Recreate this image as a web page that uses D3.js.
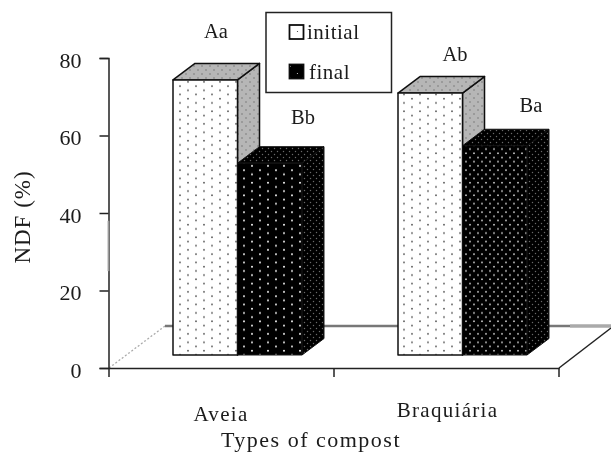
<!DOCTYPE html>
<html><head><meta charset="utf-8"><style>html,body{margin:0;background:#fff}svg{display:block}text{font-family:"Liberation Serif",serif;fill:#1a1a1a}</style>
<script src="https://cdn.jsdelivr.net/npm/d3@7/dist/d3.min.js"></script></head><body><script>
const categories=["Aveia","Braquiária"];
const seriesNames=["initial","final"];
const initialValues=[71,67.6];
const finalValues=[49.5,54];
const letterInitial=["Aa","Ab"];
const letterFinal=["Bb","Ba"];
const yTicks=[0,20,40,60,80];
const W=611,H=453;
const svg=d3.select("body").append("svg").attr("width",W).attr("height",H);
const defs=svg.append("defs");
const f=defs.append("filter").attr("id","soft");f.append("feGaussianBlur").attr("stdDeviation",0.45);
function dots(id,bg,dot,sx,sy,r){
 const p=defs.append("pattern").attr("id",id).attr("width",sx).attr("height",sy).attr("patternUnits","userSpaceOnUse");
 p.append("rect").attr("width",sx).attr("height",sy).attr("fill",bg);
 p.append("circle").attr("cx",sx/4).attr("cy",sy/4).attr("r",r).attr("fill",dot);
 p.append("circle").attr("cx",3*sx/4).attr("cy",3*sy/4).attr("r",r).attr("fill",dot);
}
dots("pInit","#fff","#555",16,8.4,0.9);
dots("pInitTop","#b6b6b6","#777",8,8,0.8);
dots("pFinal","#000","#e4e4e4",16,8.4,1.05);
dots("pFinal2","#000","#c8c8c8",8,8.4,0.95);
dots("pFinalSide","#000","#6a6a6a",6,6,0.7);
dots("pLegInit","#fff","#333",14,14,0.6);
dots("pLegFinal","#000","#ccc",14,14,0.6);

const y=d3.scaleLinear().domain([0,80]).range([368,58]);
const x=d3.scaleBand().domain(categories).range([109,559]);
const root=svg.append("g").attr("filter","url(#soft)");
const floorDx=56,floorDy=-42,barInsetX=64,barW=64.5,barBase=355,depthX=22,depthY=-16.5;
const unit=y(0)-y(1);

// floor
root.append("path").attr("d",`M109,368L${109+floorDx},${368+floorDy}`).attr("stroke","#aaa").attr("stroke-width",1.3).attr("stroke-dasharray","2 2").attr("fill","none");
root.append("line").attr("x1",109+floorDx).attr("x2",570).attr("y1",326).attr("y2",326).attr("stroke","#777").attr("stroke-width",2.6);
root.append("line").attr("x1",570).attr("x2",611).attr("y1",326).attr("y2",326).attr("stroke","#aaa").attr("stroke-width",3.4);
root.append("line").attr("x1",559).attr("y1",368).attr("x2",611).attr("y2",328).attr("stroke","#222").attr("stroke-width",1.5);

// axes
const ay=d3.axisLeft(y).tickValues(yTicks).tickSize(9).tickPadding(18);
const gy=root.append("g").attr("transform","translate(108.5,0)").call(ay);
gy.selectAll("text").attr("font-size",22).attr("font-family","Liberation Serif").attr("dy","0.42em").attr("fill","#1a1a1a");
const ax=d3.axisBottom(x).tickValues([]).tickSize(0);
const gx=root.append("g").attr("transform","translate(0,368)").call(ax);
[109,334,559].forEach(v=>gx.append("line").attr("x1",v).attr("x2",v).attr("y1",0).attr("y2",9).attr("stroke","#222").attr("stroke-width",1.5));
root.selectAll(".domain").attr("stroke","#222").attr("stroke-width",1.5);
root.selectAll(".tick line").attr("stroke","#222").attr("stroke-width",1.5);
root.append("line").attr("x1",108.5).attr("x2",108.5).attr("y1",y(38)).attr("y2",y(25)).attr("stroke","#999").attr("stroke-width",1.8);

function box(x0,val,w,front,top,side,edge){
 const t=barBase-val*unit, b=barBase;
 const g=root.append("g");
 const draw=(d,fill,sw)=>g.append("path").attr("d",d).attr("fill",fill).attr("stroke","#111").attr("stroke-width",sw).attr("stroke-linejoin","round");
 draw(`M${x0+w},${t}L${x0+w+depthX},${t+depthY}L${x0+w+depthX},${b+depthY}L${x0+w},${b}Z`,side,edge);
 draw(`M${x0},${t}L${x0+depthX},${t+depthY}L${x0+w+depthX},${t+depthY}L${x0+w},${t}Z`,top,edge);
 draw(`M${x0},${t}H${x0+w}V${b}H${x0}Z`,front,edge);
}
categories.forEach((c,i)=>{
 const x0=x(c)+barInsetX;
 box(x0,initialValues[i],barW,"url(#pInit)","url(#pInitTop)","url(#pInitTop)",1.5);
 box(x0+barW,finalValues[i],barW,i?"url(#pFinal2)":"url(#pFinal)","url(#pFinalSide)","url(#pFinalSide)",1);
});

// letters
const lab=(t,xx,yy,s=20.5,a="middle")=>root.append("text").attr("x",xx).attr("y",yy).attr("font-size",s).attr("text-anchor",a).text(t);
categories.forEach((c,i)=>{
 const x0=x(c)+barInsetX;
 lab(letterInitial[i],x0+(i?57:43),barBase-initialValues[i]*unit+(i?-32:-42));
 lab(letterFinal[i],x0+barW+(i?68.5:65.5),barBase-finalValues[i]*unit+(i?-34:-39));
 root.append("text").attr("x",i?447.5:221).attr("y",i?417:421).attr("font-size",21).attr("letter-spacing",1.3).attr("text-anchor","middle").text(c);
});
root.append("text").attr("x",311).attr("y",447).attr("font-size",22).attr("letter-spacing",1.5).attr("text-anchor","middle").text("Types of compost");
root.append("text").attr("transform","translate(30,217) rotate(-90)").attr("font-size",23).attr("letter-spacing",1).attr("text-anchor","middle").text("NDF (%)");

// legend
root.append("rect").attr("x",266).attr("y",12.5).attr("width",125.5).attr("height",80).attr("fill","#fff").attr("stroke","#222").attr("stroke-width",1.5);
seriesNames.forEach((n,i)=>{
 const yy=i?71.5:32;
 root.append("rect").attr("x",289.5).attr("y",yy-7).attr("width",14).attr("height",14).attr("fill",i?"url(#pLegFinal)":"url(#pLegInit)").attr("stroke","#111").attr("stroke-width",1.8);
 lab(n,i?309:307,yy+7,21,"start").attr("letter-spacing",0.5);
});
</script></body></html>
